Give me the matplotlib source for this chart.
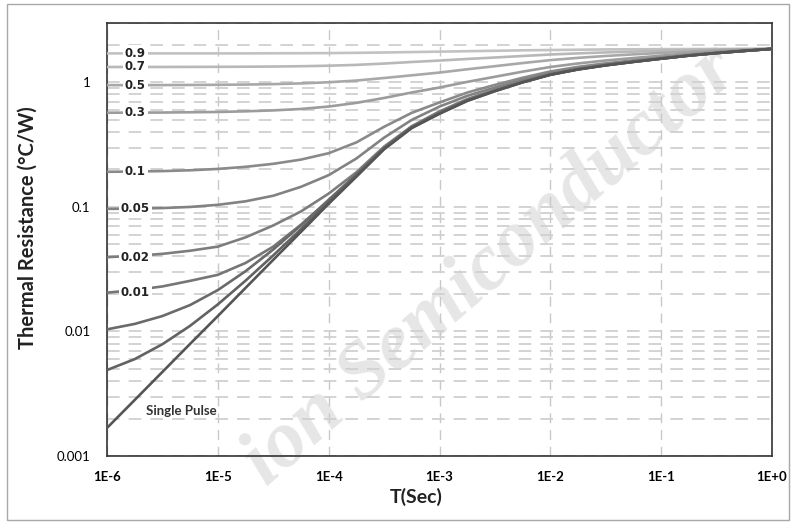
import matplotlib.pyplot as plt
from matplotlib.patches import Rectangle
from matplotlib.ticker import FixedLocator, FixedFormatter, LogLocator, NullFormatter

# pulse width (s), quarter decades from 1E-6 to 1E+0
t_sec = [1e-6, 1.78e-6, 3.16e-6, 5.62e-6,
         1e-5, 1.78e-5, 3.16e-5, 5.62e-5,
         1e-4, 1.78e-4, 3.16e-4, 5.62e-4,
         1e-3, 1.78e-3, 3.16e-3, 5.62e-3,
         1e-2, 1.78e-2, 3.16e-2, 5.62e-2,
         1e-1, 1.78e-1, 3.16e-1, 5.62e-1, 1]

# thermal resistance, one list per duty cycle
z_09 = [1.71, 1.71, 1.71, 1.71, 1.71, 1.71, 1.714, 1.716, 1.72, 1.728, 1.739, 1.753,
        1.766, 1.781, 1.795, 1.81, 1.82, 1.83, 1.84, 1.845, 1.85, 1.853, 1.856, 1.858, 1.86]
z_07 = [1.33, 1.331, 1.331, 1.332, 1.334, 1.337, 1.341, 1.349, 1.362, 1.383, 1.417, 1.459,
        1.498, 1.543, 1.585, 1.63, 1.675, 1.711, 1.741, 1.768, 1.795, 1.82, 1.84, 1.85, 1.86]
z_05 = [0.951, 0.951, 0.952, 0.954, 0.957, 0.961, 0.969, 0.982, 1.003, 1.035, 1.085, 1.14,
        1.2, 1.275, 1.35, 1.43, 1.51, 1.575, 1.63, 1.68, 1.725, 1.77, 1.81, 1.84, 1.86]
z_03 = [0.571, 0.572, 0.573, 0.576, 0.579, 0.586, 0.596, 0.612, 0.64, 0.685, 0.75, 0.83,
        0.91, 1.01, 1.11, 1.22, 1.33, 1.42, 1.5, 1.57, 1.64, 1.71, 1.77, 1.82, 1.86]
z_01 = [0.1915, 0.1925, 0.194, 0.197, 0.202, 0.21, 0.222, 0.24, 0.27, 0.33, 0.44, 0.57,
        0.69, 0.829, 0.955, 1.09, 1.225, 1.333, 1.423, 1.504, 1.585, 1.666, 1.738, 1.801, 1.86]
z_005 = [0.0965, 0.097, 0.098, 0.1, 0.104, 0.111, 0.123, 0.145, 0.18, 0.245, 0.36, 0.5,
         0.64, 0.78, 0.91, 1.05, 1.19, 1.3, 1.395, 1.48, 1.565, 1.65, 1.725, 1.795, 1.86]
z_002 = [0.0395, 0.0405, 0.042, 0.0445, 0.048, 0.057, 0.071, 0.092, 0.128, 0.19, 0.305, 0.445,
         0.585, 0.735, 0.87, 1.015, 1.165, 1.28, 1.38, 1.47, 1.555, 1.645, 1.72, 1.79, 1.86]
z_001 = [0.0205, 0.0215, 0.023, 0.0255, 0.0285, 0.0355, 0.048, 0.072, 0.113, 0.18, 0.298, 0.44,
         0.578, 0.727, 0.866, 1.01, 1.16, 1.277, 1.375, 1.465, 1.553, 1.643, 1.72, 1.79, 1.86]
z_0005 = [0.0104, 0.0115, 0.0133, 0.0163, 0.0215, 0.0305, 0.0455, 0.071, 0.114, 0.183, 0.297, 0.437,
          0.567, 0.717, 0.857, 1.005, 1.155, 1.275, 1.375, 1.465, 1.553, 1.642, 1.72, 1.79, 1.86]
z_0002 = [0.0049, 0.006, 0.0079, 0.0111, 0.0165, 0.0256, 0.0408, 0.0662, 0.109, 0.178, 0.293, 0.433,
          0.563, 0.713, 0.853, 1.003, 1.153, 1.273, 1.373, 1.463, 1.553, 1.643, 1.723, 1.793, 1.86]
z_single = [0.00168, 0.00282, 0.00473, 0.00795, 0.0133, 0.0224, 0.0376, 0.063, 0.106, 0.175, 0.29, 0.43,
            0.56, 0.71, 0.85, 1.0, 1.15, 1.27, 1.37, 1.46, 1.55, 1.64, 1.72, 1.79, 1.86]

duty_labels = ['0.9', '0.7', '0.5', '0.3', '0.1', '0.05', '0.02', '0.01', '', '', '']
x_ticks = [1e-6, 1e-5, 1e-4, 1e-3, 1e-2, 1e-1, 1]
x_ticklabels = ['1E-6', '1E-5', '1E-4', '1E-3', '1E-2', '1E-1', '1E+0']
y_ticks = [0.001, 0.01, 0.1, 1]
y_ticklabels = ['0.001', '0.01', '0.1', '1']

curves = [z_09, z_07, z_05, z_03, z_01, z_005, z_002, z_001, z_0005, z_0002, z_single]
colors = ['#c2c2c2', '#b8b8b8', '#a8a8a8', '#9c9c9c', '#8a8a8a', '#828282',
          '#7d7d7d', '#767676', '#6a6a6a', '#626262', '#555555']

fig = plt.figure(figsize=(7.91, 5.22), dpi=100)
ax = fig.add_axes([107 / 791, 66 / 522, 665 / 791, 433 / 522])
ax.patch.set_visible(False)

ax.set_xscale('log')
ax.set_yscale('log')
ax.set_xlim(1e-6, 1)
ax.set_ylim(0.001, 3)

# grid: dashed verticals at decades, dashed horizontals at every 1..9
ax.yaxis.set_minor_locator(LogLocator(base=10, subs=range(2, 10)))
ax.yaxis.set_minor_formatter(NullFormatter())
ax.xaxis.set_minor_formatter(NullFormatter())
ax.grid(True, which='major', axis='x', color='#c8c8c8', linestyle=(0, (7, 5)), lw=1.0)
ax.grid(True, which='both', axis='y', color='#d0d0d0', linestyle=(0, (7, 5)), lw=1.3)
ax.set_axisbelow(True)

for vals, col in zip(curves, colors):
    ax.plot(t_sec, vals, color=col, lw=1.9, solid_capstyle='butt', zorder=3)

# duty cycle labels sitting on the curves near the left edge
for lab, vals in zip(duty_labels, curves):
    if lab == '':
        continue
    ax.text(1.8e-6, vals[0], lab, ha='center', va='center', fontsize=8.5,
            fontweight='bold', color='#222222', family='DejaVu Sans',
            bbox=dict(boxstyle='square,pad=0.15', fc='white', ec='none'), zorder=4)

ax.text(2.25e-6, 0.0023, 'Single Pulse', ha='left', va='center', fontsize=9.5,
        color='#333333', family='Lato', fontweight='bold', zorder=4)

ax.xaxis.set_major_locator(FixedLocator(x_ticks))
ax.xaxis.set_major_formatter(FixedFormatter(x_ticklabels))
ax.yaxis.set_major_locator(FixedLocator(y_ticks))
ax.yaxis.set_major_formatter(FixedFormatter(y_ticklabels))
ax.tick_params(which='both', length=0)
ax.tick_params(axis='x', pad=11, labelsize=9.5)
ax.tick_params(axis='y', pad=12, labelsize=9.5)
for lb in ax.get_xticklabels():
    lb.set_family('Lato')
    lb.set_fontweight('bold')
for lb in ax.get_yticklabels():
    lb.set_family('Lato')

for sp in ax.spines.values():
    sp.set_color('#333333')
    sp.set_linewidth(1.2)

ax.set_xlabel('T(Sec)', fontsize=14, family='Lato', fontweight='bold', color='#222222')
ax.xaxis.set_label_coords((416 - 107) / 665, -(488 - 456) / 433)
ax.set_ylabel('Thermal Resistance (°C/W)', fontsize=14.5, family='Lato',
              fontweight='bold', color='#222222')
ax.yaxis.set_label_coords(-(107 - 38) / 665, (456 - 228) / 433)

# watermark, behind the plot
fig.text(0.62, 0.49, 'ion Semiconductor', fontsize=58, family='Liberation Serif',
         fontweight='bold', style='italic', color='#e6e6e6',
         rotation=41, ha='center', va='center', zorder=-1)

# thin outer frame
fig.patches.append(Rectangle((7 / 791, 2 / 522), 782 / 791, 516 / 522,
                             transform=fig.transFigure, fill=False,
                             ec='#a8a8a8', lw=1.0))

fig.savefig('out.png', dpi=100)
